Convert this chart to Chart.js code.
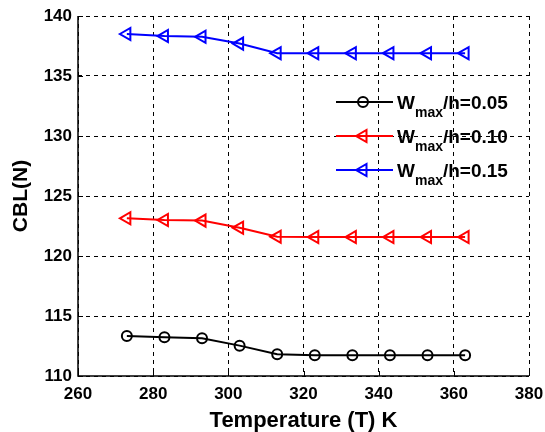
<!DOCTYPE html>
<html>
<head>
<meta charset="utf-8">
<script src="https://cdn.jsdelivr.net/npm/chart.js@4"></script>
<style>
  html, body { margin: 0; padding: 0; background: #fff; }
  #wrap { width: 545px; height: 432px; }
</style>
</head>
<body>
<div id="wrap"><canvas id="chart" width="545" height="432"></canvas></div>
<script>
"use strict";

const temps = [273, 283, 293, 303, 313, 323, 333, 343, 353, 363];
const cbl005 = [113.33, 113.22, 113.14, 112.53, 111.81, 111.72, 111.72, 111.72, 111.72, 111.72];
const cbl010 = [123.14, 123.0, 122.95, 122.36, 121.61, 121.58, 121.58, 121.58, 121.58, 121.58];
const cbl015 = [138.5, 138.33, 138.27, 137.7, 136.9, 136.9, 136.9, 136.9, 136.9, 136.9];
const ratios = ["0.05", "0.10", "0.15"];
const xTicks = [260, 280, 300, 320, 340, 360, 380];
const yTicks = [110, 115, 120, 125, 130, 135, 140];

const FONT = "'Liberation Sans', Arial, sans-serif";
const pts = (ys) => temps.map((t, i) => ({ x: t, y: ys[i] }));

const series = [
  { data: cbl005, color: "#000000", style: "circle", rot: 0, r: 5 },
  { data: cbl010, color: "#ff0000", style: "triangle", rot: -90, r: 7 },
  { data: cbl015, color: "#0000ff", style: "triangle", rot: -90, r: 7 },
];

// axes drawn solid on left/bottom with inward ticks, like the matlab figure
const axesPlugin = {
  id: "axesBox",
  afterDatasetsDraw(chart) {
    const { ctx, chartArea: a, scales } = chart;
    ctx.save();
    ctx.strokeStyle = "#000";
    ctx.lineWidth = 1.5;
    ctx.setLineDash([]);
    ctx.beginPath();
    ctx.moveTo(a.left, a.top);
    ctx.lineTo(a.left, a.bottom);
    ctx.lineTo(a.right, a.bottom);
    ctx.stroke();
    ctx.lineWidth = 1;
    ctx.beginPath();
    for (const v of xTicks) {
      const px = Math.round(scales.x.getPixelForValue(v)) + 0.5;
      ctx.moveTo(px, a.bottom);
      ctx.lineTo(px, a.bottom - 5);
    }
    for (const v of yTicks) {
      const py = Math.round(scales.y.getPixelForValue(v)) + 0.5;
      ctx.moveTo(a.left, py);
      ctx.lineTo(a.left + 5, py);
    }
    ctx.stroke();
    ctx.restore();
  },
};

// legend with subscript "max"
const legendPlugin = {
  id: "subLegend",
  afterDatasetsDraw(chart) {
    const { ctx } = chart;
    const rows = [102, 136, 170];
    ctx.save();
    series.forEach((s, i) => {
      const y = rows[i];
      ctx.strokeStyle = s.color;
      ctx.lineWidth = 2;
      ctx.setLineDash([]);
      ctx.beginPath();
      ctx.moveTo(336, y);
      ctx.lineTo(393, y);
      ctx.stroke();
      ctx.fillStyle = "rgba(0,0,0,0)";
      Chart.helpers.drawPoint(ctx, {
        pointStyle: s.style, rotation: s.rot, radius: s.r, borderWidth: 2,
      }, 363, y);
      ctx.fillStyle = "#000";
      ctx.textBaseline = "alphabetic";
      ctx.textAlign = "left";
      let x = 397;
      ctx.font = `bold 19px ${FONT}`;
      ctx.fillText("W", x, y + 7);
      x += ctx.measureText("W").width;
      ctx.font = `bold 14px ${FONT}`;
      ctx.fillText("max", x, y + 15);
      x += ctx.measureText("max").width;
      ctx.font = `bold 19px ${FONT}`;
      ctx.fillText("/h=" + ratios[i], x, y + 7);
    });
    ctx.restore();
  },
};

new Chart(document.getElementById("chart"), {
  type: "line",
  data: {
    datasets: series.map((s, i) => ({
      label: "Wmax/h=" + ratios[i],
      data: pts(s.data),
      borderColor: s.color,
      backgroundColor: s.color,
      borderWidth: 2,
      pointStyle: s.style,
      rotation: s.rot,
      pointRadius: s.r,
      pointBorderWidth: 2,
      pointBackgroundColor: "rgba(0,0,0,0)",
      pointBorderColor: s.color,
      tension: 0,
    })),
  },
  options: {
    responsive: false,
    animation: false,
    layout: { padding: { top: 16, right: 16, left: 0, bottom: 0 } },
    plugins: { legend: { display: false }, tooltip: { enabled: false } },
    scales: {
      x: {
        type: "linear",
        min: 260, max: 380,
        afterBuildTicks: (sc) => { sc.ticks = xTicks.map((v) => ({ value: v })); },
        afterFit: (sc) => { sc.height = 56; sc.paddingRight = 0; sc.paddingLeft = 0; },
        grid: { color: "#000", lineWidth: 1, drawTicks: false },
        border: { display: false, dash: [4, 4] },
        ticks: { color: "#000", padding: 8, font: { family: FONT, size: 17, weight: "bold" } },
        title: {
          display: true, text: "Temperature (T) K", color: "#000",
          font: { family: FONT, size: 22, weight: "bold" }, padding: { top: 0, bottom: -2 },
        },
      },
      y: {
        min: 110, max: 140,
        afterBuildTicks: (sc) => { sc.ticks = yTicks.map((v) => ({ value: v })); },
        afterFit: (sc) => { sc.width = 78; sc.paddingTop = 0; sc.paddingBottom = 0; },
        grid: { color: "#000", lineWidth: 1, drawTicks: false },
        border: { display: false, dash: [4, 4] },
        ticks: { color: "#000", padding: 6, font: { family: FONT, size: 17, weight: "bold" } },
        title: {
          display: true, text: "CBL(N)", color: "#000",
          font: { family: FONT, size: 21, weight: "bold" }, padding: { top: 9, bottom: 0 },
        },
      },
    },
  },
  plugins: [axesPlugin, legendPlugin],
});
</script>
</body>
</html>
